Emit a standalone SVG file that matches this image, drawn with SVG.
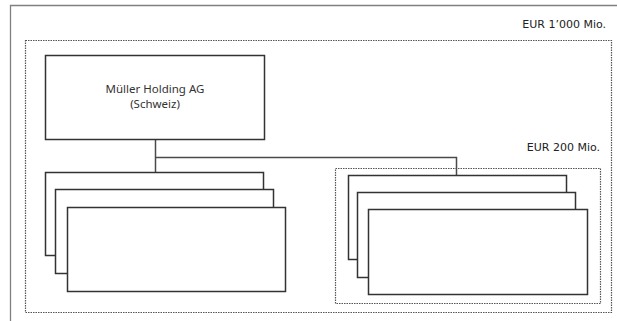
<svg xmlns="http://www.w3.org/2000/svg" width="617" height="321" viewBox="0 0 617 321">
<style>
.box{fill:#fff;stroke:#333;stroke-width:1.5}
.dot{fill:none;stroke:#555;stroke-width:1.2;stroke-dasharray:1.5,1}
.lbl{font-family:"DejaVu Sans",Verdana,sans-serif;font-size:11px;fill:#222}
.nt{font-family:"Noto Sans","Open Sans",sans-serif;font-size:11.5px;fill:#333}
.con{fill:none;stroke:#4a4a4a;stroke-width:1.5}
</style>
<rect width="617" height="321" fill="#fff"/>
<g id="frame">
<path d="M10.5,321 V5.5 H617" fill="none" stroke="#808080" stroke-width="1.3"/>
</g>
<g id="group-1000">
<rect class="dot" x="25.5" y="40.5" width="586" height="272"/>
<text class="lbl" x="606" y="28" text-anchor="end">EUR 1’000 Mio.</text>
</g>
<g id="group-200">
<rect class="dot" x="335.5" y="168.5" width="265" height="135"/>
<text class="lbl" x="600" y="151" text-anchor="end">EUR 200 Mio.</text>
</g>
<g id="connectors">
<path class="con" d="M155.5,139 V172"/>
<path class="con" d="M155.5,157.5 H456.5 V175"/>
</g>
<g id="holding">
<rect class="box" x="45.5" y="55.5" width="219" height="84"/>
<text class="nt" x="155" y="93" text-anchor="middle">Müller Holding AG</text>
<text class="nt" x="155" y="108" text-anchor="middle">(Schweiz)</text>
</g>
<g id="left-stack">
<rect class="box" x="45.5" y="172.5" width="218" height="83"/>
<rect class="box" x="55.5" y="189.5" width="218" height="84"/>
<rect class="box" x="67.5" y="207.5" width="218" height="84"/>
</g>
<g id="right-stack">
<rect class="box" x="348.5" y="175.5" width="218" height="84"/>
<rect class="box" x="357.5" y="192.5" width="218" height="85"/>
<rect class="box" x="368.5" y="209.5" width="219" height="85"/>
</g>
</svg>
